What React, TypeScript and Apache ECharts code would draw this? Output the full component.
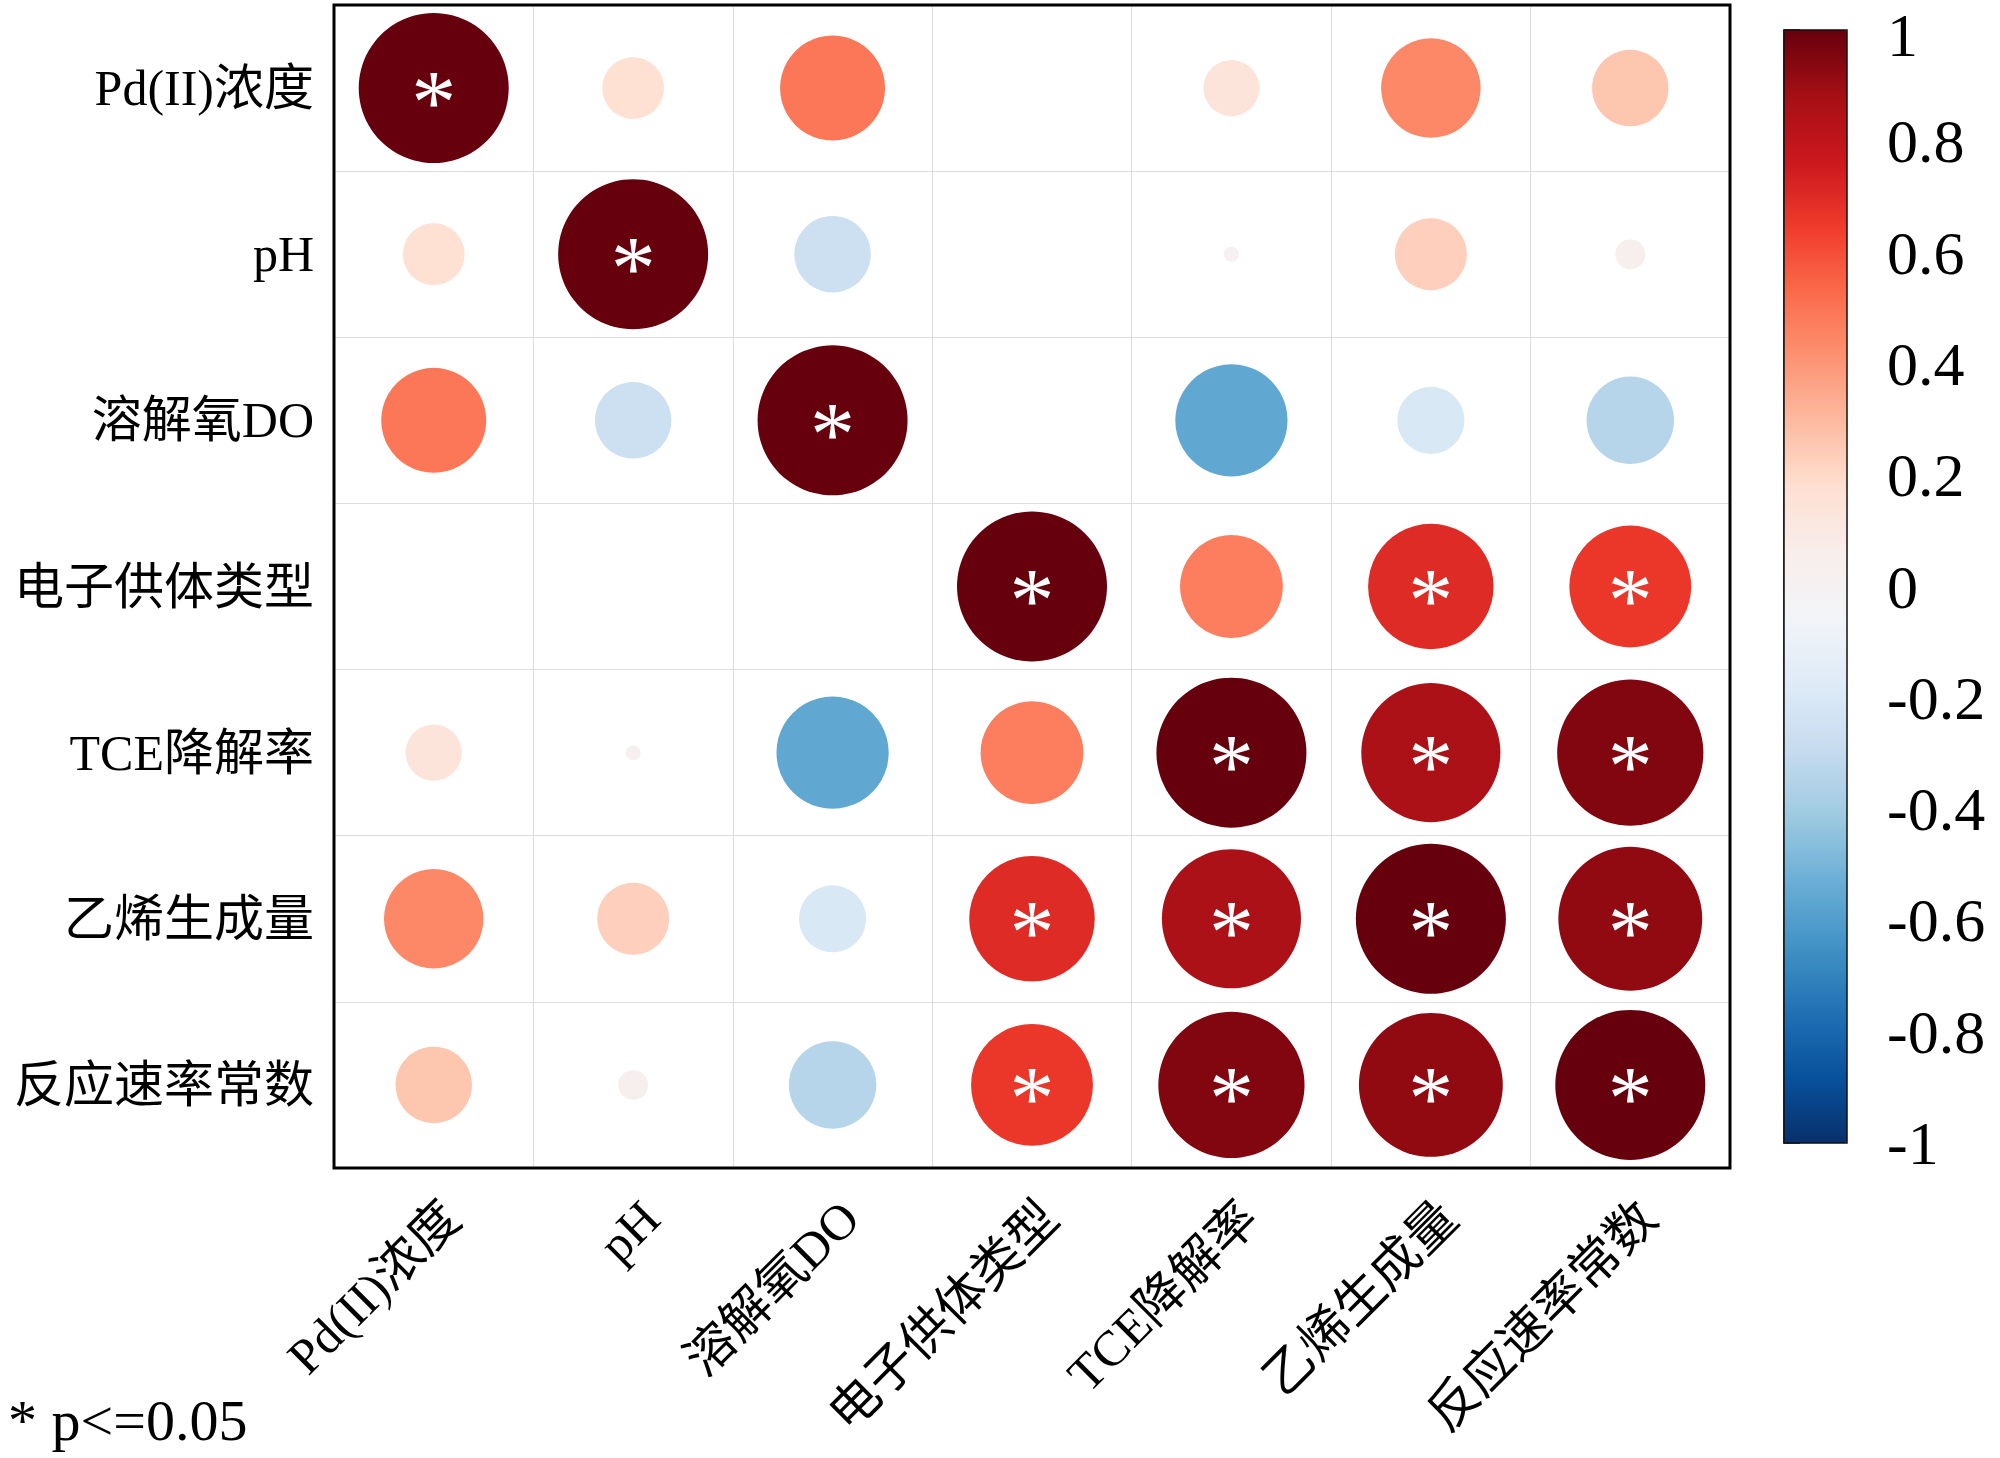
import React, { useEffect, useRef } from "react";
import * as echarts from "echarts";

const labels = ["Pd(II)浓度", "pH", "溶解氧DO", "电子供体类型", "TCE降解率", "乙烯生成量", "反应速率常数"];

// correlation rows (symmetric)
const rowPd = [1, 0.17, 0.49, 0, 0.14, 0.44, 0.26];
const rowPH = [0.17, 1, -0.26, 0, 0.01, 0.23, 0.04];
const rowDO = [0.49, -0.26, 1, 0, -0.56, -0.2, -0.34];
const rowED = [0, 0, 0, 1, 0.47, 0.7, 0.66];
const rowTCE = [0.14, 0.01, -0.56, 0.47, 1, 0.86, 0.95];
const rowEth = [0.44, 0.23, -0.2, 0.7, 0.86, 1, 0.92];
const rowK = [0.26, 0.04, -0.34, 0.66, 0.95, 0.92, 1];

// significance (p<=0.05)
const sigPd = [1, 0, 0, 0, 0, 0, 0];
const sigPH = [0, 1, 0, 0, 0, 0, 0];
const sigDO = [0, 0, 1, 0, 0, 0, 0];
const sigED = [0, 0, 0, 1, 0, 1, 1];
const sigTCE = [0, 0, 0, 0, 1, 1, 1];
const sigEth = [0, 0, 0, 1, 1, 1, 1];
const sigK = [0, 0, 0, 1, 1, 1, 1];

const colorTicks = [-1, -0.8, -0.6, -0.4, -0.2, 0, 0.2, 0.4, 0.6, 0.8, 1];

const palette = [
  "#08306b", "#08519c", "#2171b5", "#4292c6", "#6baed6", "#9ecae1", "#c6dbef", "#deebf7", "#f2f4f8",
  "#f8eeec", "#fee0d2", "#fcbba1", "#fc9272", "#fb6a4a", "#ef3b2c", "#cb181d", "#a50f15", "#67000d",
];

const FONT = "'Liberation Serif', 'Noto Sans CJK SC', serif";

export default function App() {
  const ref = useRef<HTMLDivElement>(null);
  useEffect(() => {
    document.body.style.margin = "0";
    if (!ref.current) return;
    const chart = echarts.init(ref.current, null, { renderer: "svg" });
    const rows = [rowPd, rowPH, rowDO, rowED, rowTCE, rowEth, rowK];
    const sigs = [sigPd, sigPH, sigDO, sigED, sigTCE, sigEth, sigK];
    const data: any[] = [];
    rows.forEach((row, yi) => {
      row.forEach((r, xi) => {
        if (r === 0) return;
        data.push({
          value: [xi, yi, r],
          label: { show: sigs[yi][xi] === 1 },
        });
      });
    });
    const maxD = 150;
    chart.setOption({
      animation: false,
      backgroundColor: "#ffffff",
      grid: [
        { left: 334, top: 5, width: 1396, height: 1163, show: true, borderColor: "#000", borderWidth: 3, backgroundColor: "transparent", z: 3 },
        { left: 1784, top: 30, width: 63, height: 1113, show: true, borderColor: "#111", borderWidth: 1.5, backgroundColor: "transparent", z: 10 },
      ],
      xAxis: [
        {
          gridIndex: 0,
          type: "category",
          data: labels,
          axisLine: { show: false },
          axisTick: { show: false },
          splitLine: { show: true, interval: 0, lineStyle: { color: "#dddddd", width: 1 } },
          axisLabel: {
            interval: 0,
            rotate: 45,
            margin: 24,
            verticalAlign: "top",
            fontSize: 50,
            color: "#000",
            fontFamily: FONT,
          },
        },
        { gridIndex: 1, type: "value", min: 0, max: 1, show: false },
      ],
      yAxis: [
        {
          gridIndex: 0,
          type: "category",
          data: labels,
          inverse: true,
          axisLine: { show: false },
          axisTick: { show: false },
          splitLine: { show: true, interval: 0, lineStyle: { color: "#dddddd", width: 1 } },
          axisLabel: { interval: 0, margin: 20, fontSize: 50, color: "#000", fontFamily: FONT },
        },
        {
          gridIndex: 1,
          type: "value",
          position: "right",
          min: -1,
          max: 1,
          interval: 0.2,
          axisLine: { show: true, lineStyle: { color: "#111", width: 1.5 } },
          axisTick: { show: true, length: 16, inside: false, lineStyle: { color: "#111", width: 1.5 } },
          splitLine: { show: false },
          axisLabel: {
            margin: 40,
            fontSize: 62,
            color: "#000",
            fontFamily: FONT,
            rich: {
              top: { fontSize: 62, fontFamily: FONT, color: "#000", padding: [10, 0, 0, 0] },
            },
            formatter: (v: number) => {
              const t = colorTicks.find((c) => Math.abs(c - v) < 1e-6);
              if (t === undefined) return "";
              return t === 1 ? "{top|1}" : String(t);
            },
          },
        },
      ],
      visualMap: {
        type: "continuous",
        min: -1,
        max: 1,
        dimension: 2,
        seriesIndex: 0,
        left: 1784,
        top: 30,
        itemWidth: 63,
        itemHeight: 1113,
        padding: 0,
        calculable: false,
        hoverLink: false,
        inRange: { color: palette },
        z: 4,
      },
      series: [
        {
          type: "scatter",
          xAxisIndex: 0,
          yAxisIndex: 0,
          data,
          symbol: "circle",
          symbolSize: (v: number[]) => maxD * Math.sqrt(Math.abs(v[2])),
          itemStyle: { opacity: 1 },
          label: {
            show: false,
            position: "inside",
            formatter: "*",
            color: "#ffffff",
            fontSize: 90,
            fontFamily: "'Liberation Serif', serif",
            offset: [0, 14],
          },
          emphasis: { disabled: true },
        },
      ],
      graphic: [
        {
          type: "text",
          x: 8,
          y: 1420,
          style: { text: "* p<=0.05", font: `58px ${FONT}`, fill: "#000", verticalAlign: "middle" },
        },
      ],
    });
    return () => chart.dispose();
  }, []);
  return <div ref={ref} style={{ width: 2000, height: 1458 }} />;
}
